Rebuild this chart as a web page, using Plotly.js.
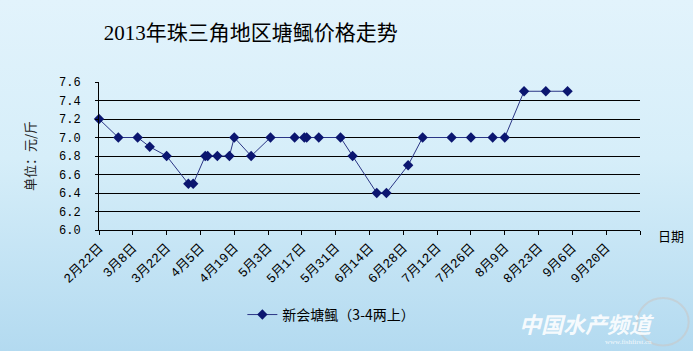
<!DOCTYPE html>
<html>
<head>
<meta charset="utf-8">
<script src="https://cdn.plot.ly/plotly-3.0.1.min.js"></script>
<style>
html,body{margin:0;padding:0;}
body{width:693px;height:351px;background:linear-gradient(to bottom,#e2f3fc 0%,#d6eef9 45%,#b3daf0 100%);overflow:hidden;}
#chart{width:693px;height:351px;}
</style>
</head>
<body>
<div id="chart"></div>
<script>
// Data
const dates = ['2013-02-22','2013-03-02','2013-03-10','2013-03-15','2013-03-22','2013-03-31','2013-04-02','2013-04-07','2013-04-08','2013-04-12','2013-04-17','2013-04-19','2013-04-26','2013-05-04','2013-05-14','2013-05-18','2013-05-19','2013-05-24','2013-06-02','2013-06-07','2013-06-17','2013-06-21','2013-06-30','2013-07-06','2013-07-18','2013-07-26','2013-08-04','2013-08-09','2013-08-17','2013-08-26','2013-09-04'];
const prices = [7.2,7.0,7.0,6.9,6.8,6.5,6.5,6.8,6.8,6.8,6.8,7.0,6.8,7.0,7.0,7.0,7.0,7.0,7.0,6.8,6.4,6.4,6.7,7.0,7.0,7.0,7.0,7.0,7.5,7.5,7.5];
const seriesName = '新会塘鲺（3-4两上）';
const tickDates = ['2013-02-22','2013-03-08','2013-03-22','2013-04-05','2013-04-19','2013-05-03','2013-05-17','2013-05-31','2013-06-14','2013-06-28','2013-07-12','2013-07-26','2013-08-09','2013-08-23','2013-09-06','2013-09-20','2013-10-04'];
const tickLabels = ['2月22日','3月8日','3月22日','4月5日','4月19日','5月3日','5月17日','5月31日','6月14日','6月28日','7月12日','7月26日','8月9日','8月23日','9月6日','9月20日',''];
const titleText = '2013年珠三角地区塘鲺价格走势';
const yTitle = '单位：元/斤';
const xTitle = '日期';

const trace = {
  x: dates, y: prices, name: seriesName, type: 'scatter', mode: 'lines+markers',
  line: {color: '#2a3585', width: 1},
  marker: {symbol: 'diamond', size: 8, color: '#0b1670'},
  cliponaxis: false
};

const layout = {
  width: 693, height: 351,
  paper_bgcolor: 'rgba(0,0,0,0)', plot_bgcolor: 'rgba(0,0,0,0)',
  margin: {l: 99, r: 53, t: 82, b: 121},
  showlegend: true,
  title: {text: titleText, x: 0.362, xanchor: 'center', y: 0.906, yanchor: 'middle',
          font: {family: 'Liberation Serif, Noto Sans CJK SC', size: 21, color: '#000'}},
  xaxis: {
    type: 'date', range: ['2013-02-22', '2013-10-04'],
    tickmode: 'array', tickvals: tickDates, ticktext: tickLabels,
    ticks: 'outside', ticklen: 4, tickcolor: '#000', tickwidth: 1,
    tickangle: -45, tickfont: {family: 'Liberation Mono, Noto Sans CJK SC', size: 13, color: '#000'},
    showline: true, linecolor: '#000', linewidth: 1, showgrid: false, zeroline: false
  },
  yaxis: {
    range: [6.0, 7.6], dtick: 0.2, tick0: 6.0, tickformat: '.1f',
    ticks: 'outside', ticklen: 3, tickcolor: '#000', ticklabelstandoff: 12,
    tickfont: {family: 'Liberation Mono', size: 12, color: '#000'},
    showline: true, linecolor: '#000', linewidth: 1,
    showgrid: true, gridcolor: '#000', gridwidth: 1, zeroline: false,
    title: {text: yTitle, standoff: 20, font: {family: 'Noto Sans CJK SC', size: 13, color: '#222'}}
  },
  legend: {orientation: 'h', x: 0.265, xanchor: 'left', y: -0.574, yanchor: 'middle', itemwidth: 30,
           bgcolor: 'rgba(0,0,0,0)', font: {family: 'Noto Sans CJK SC', size: 14, color: '#000'}},
  annotations: [
    {text: xTitle, xref: 'paper', yref: 'paper', x: 1.03, y: -0.034, xanchor: 'left', yanchor: 'middle',
     showarrow: false, font: {family: 'Noto Sans CJK SC', size: 13, color: '#000'}},
    {text: '<i><b>中国水产频道</b></i>', xref: 'paper', yref: 'paper', x: 1.03, y: -0.63, xanchor: 'right', yanchor: 'middle',
     showarrow: false, font: {family: 'Noto Sans CJK SC', size: 22, color: 'rgba(255,255,255,0.9)'}},
    {text: 'www.fishfirst.cn', xref: 'paper', yref: 'paper', x: 1.025, y: -0.76, xanchor: 'right', yanchor: 'middle',
     showarrow: false, font: {family: 'Liberation Serif', size: 7, color: 'rgba(255,255,255,0.85)'}}
  ],
  shapes: [
    {type: 'circle', xref: 'paper', yref: 'paper', x0: 0.995, x1: 1.09, y0: -0.78, y1: -0.46,
     line: {color: 'rgba(200,200,200,0.6)', width: 2}}
  ]
};

Plotly.newPlot('chart', [trace], layout, {displayModeBar: false, staticPlot: true});
</script>
</body>
</html>
